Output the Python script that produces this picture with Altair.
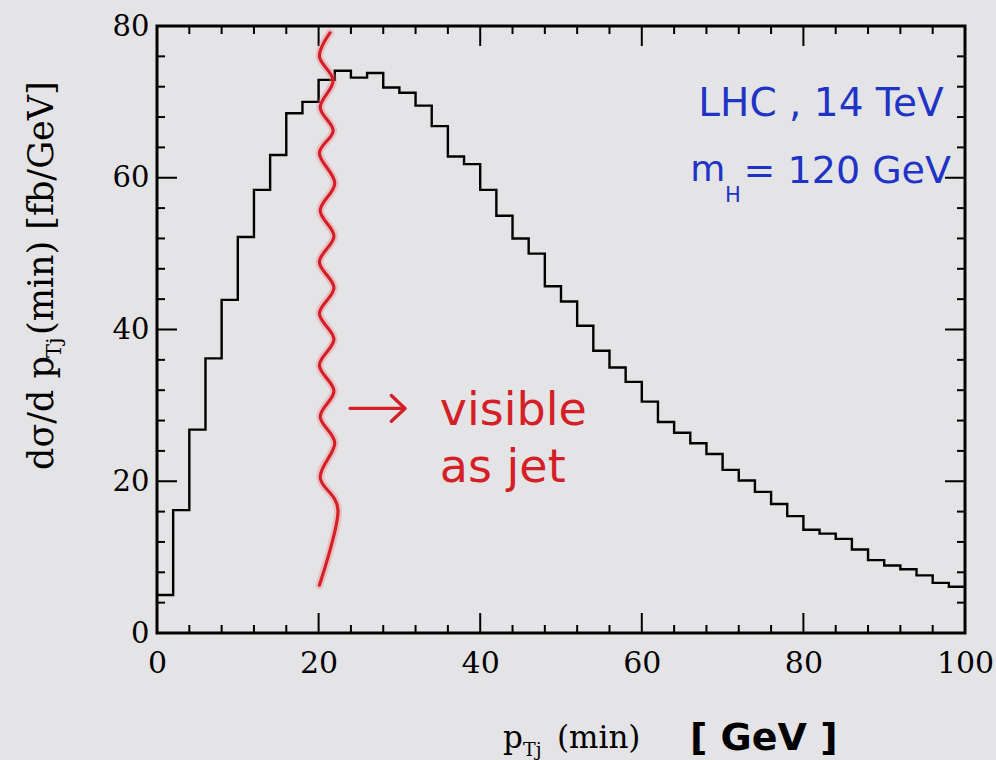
import altair as alt
import pandas as pd

# ---- histogram: d(sigma)/d pT,j(min) in 2 GeV bins, 0..100 GeV ----
bin_lo = list(range(0, 100, 2))
dsigma = [5.0, 16.2, 26.8, 36.2, 43.9, 52.2, 58.4, 63.0, 68.5, 70.0,
          72.9, 74.1, 73.2, 73.8, 71.9, 71.2, 69.5, 66.8, 62.8, 61.8,
          58.4, 55.0, 52.0, 50.0, 45.7, 43.7, 40.5, 37.2, 35.0, 33.1,
          30.5, 27.8, 26.4, 25.0, 23.6, 21.5, 20.1, 18.6, 17.0, 15.4,
          13.6, 13.1, 12.4, 11.0, 9.6, 8.9, 8.4, 7.6, 6.6, 6.1]

# axis ticks and labels
x_labels = [0, 20, 40, 60, 80, 100]
y_labels = [0, 20, 40, 60, 80]
x_ticks = list(range(0, 101, 4))
y_ticks = list(range(0, 81, 4))

# hand-drawn annotations (data coordinates)
cut_x = [21.4, 20.1, 21.8, 20.2, 21.8, 20.1, 22.0, 20.2, 21.9, 20.1,
         21.9, 20.1, 21.9, 20.1, 21.9, 20.2, 22.0, 20.2, 22.4, 20.1]
cut_y = [79.1, 76.0, 72.8, 69.3, 66.2, 63.2, 59.3, 55.7, 52.3, 48.9,
         45.5, 42.1, 38.7, 35.3, 31.9, 28.5, 25.0, 20.5, 16.0, 6.3]
arrow_x = [23.9, 30.6]
arrow_y = [29.6, 29.6]
head_x = [29.0, 30.7, 29.0]
head_y = [31.3, 29.6, 27.9]

W, H = 808, 607
xs = alt.Scale(domain=[0, 100], nice=False, zero=False)
ys = alt.Scale(domain=[0, 80], nice=False, zero=False)
X_AX = alt.Axis(title="", values=x_labels, domain=False, ticks=False, grid=False,
                labelFont="DejaVu Serif", labelFontSize=30, labelColor="black",
                labelPadding=15, labelFlush=False)
Y_AX = alt.Axis(title="", values=y_labels, domain=False, ticks=False, grid=False,
                labelFont="DejaVu Serif", labelFontSize=29, labelColor="black",
                labelPadding=8, labelFlush=False)

BLACK = "black"
RED = "#d41f27"
BLUE = "#1f34c6"

hist = pd.DataFrame({"pt": bin_lo + [100], "v": dsigma + [dsigma[-1]]})
hist_line = alt.Chart(hist).mark_line(interpolate="step-after", color=BLACK,
                                      strokeWidth=2.4).encode(
    x=alt.X("pt:Q", scale=xs, axis=X_AX),
    y=alt.Y("v:Q", scale=ys, axis=Y_AX),
)


def x_tick_layer(vals, length, side):
    y0, y1 = (H, H - length) if side == "bottom" else (0, length)
    return alt.Chart(pd.DataFrame({"t": vals})).mark_rule(color=BLACK, strokeWidth=2).encode(
        x=alt.X("t:Q", scale=xs, axis=X_AX), y=alt.value(y0), y2=alt.value(y1))


def y_tick_layer(vals, length, side):
    x0, x1 = (0, length) if side == "left" else (W, W - length)
    return alt.Chart(pd.DataFrame({"t": vals})).mark_rule(color=BLACK, strokeWidth=2).encode(
        y=alt.Y("t:Q", scale=ys, axis=Y_AX), x=alt.value(x0), x2=alt.value(x1))


x_major = [t for t in x_ticks if t % 20 == 0]
x_minor = [t for t in x_ticks if t % 20 != 0]
y_major = [t for t in y_ticks if t % 20 == 0]
y_minor = [t for t in y_ticks if t % 20 != 0]

tick_layers = [
    x_tick_layer(x_major, 20, "bottom"), x_tick_layer(x_minor, 8, "bottom"),
    x_tick_layer(x_major, 20, "top"), x_tick_layer(x_minor, 8, "top"),
    y_tick_layer(y_major, 20, "left"), y_tick_layer(y_minor, 8, "left"),
    y_tick_layer(y_major, 20, "right"), y_tick_layer(y_minor, 8, "right"),
]


def path(xv, yv, color, width, opacity=1.0, interp="linear"):
    df = pd.DataFrame({"x": xv, "y": yv, "i": list(range(len(xv)))})
    return alt.Chart(df).mark_line(color=color, strokeWidth=width, opacity=opacity,
                                   interpolate=interp, strokeCap="round",
                                   strokeJoin="round").encode(
        x=alt.X("x:Q", scale=xs, axis=X_AX),
        y=alt.Y("y:Q", scale=ys, axis=Y_AX),
        order="i:Q")


def note(text, x, y, size, color, font="DejaVu Sans", weight="normal"):
    return alt.Chart(pd.DataFrame({"t": [text], "x": [x], "y": [y]})).mark_text(
        align="left", baseline="alphabetic", font=font, fontSize=size,
        fontWeight=weight, color=color).encode(
        x=alt.X("x:Q", scale=xs, axis=X_AX),
        y=alt.Y("y:Q", scale=ys, axis=Y_AX),
        text="t:N")


def label(text, px, py, size, font="DejaVu Serif", angle=0, weight="normal"):
    return alt.Chart(pd.DataFrame({"t": [text]})).mark_text(
        align="left", baseline="alphabetic", font=font, fontSize=size,
        fontWeight=weight, angle=angle, color=BLACK).encode(
        x=alt.value(px), y=alt.value(py), text="t:N")


# jet-threshold line with its ink halo, arrow and notes
cut_glow = path(cut_x, cut_y, "#f07a80", 8, 0.35, "cardinal")
cut_line = path(cut_x, cut_y, RED, 3.2, 1.0, "cardinal")
arrow = path(arrow_x, arrow_y, RED, 3.4)
arrow_head = path(head_x, head_y, RED, 3.4)

notes = [
    note("visible", 35.0, 27.4, 46, RED),
    note("as  jet", 35.0, 19.9, 46, RED),
    note("LHC , 14 TeV", 67.0, 68.2, 39, BLUE),
    note("m", 66.0, 59.6, 36, BLUE),
    note("H", 70.3, 56.8, 21, BLUE),
    note("= 120 GeV", 72.6, 59.3, 38, BLUE),
]

# axis titles
titles = [
    label("p", 346, 722, 31),
    label("Tj", 366, 730, 19),
    label("(min)", 400, 722, 31),
    label("[ GeV ]", 533, 724, 38, font="DejaVu Sans", weight="bold"),
    label("dσ/d p", -104, 444, 35, angle=270),
    label("Tj", -96, 332, 21, angle=270),
    label("(min) [fb/GeV]", -104, 309, 35, angle=270),
]

chart = alt.layer(
    hist_line, *tick_layers, cut_glow, cut_line, arrow, arrow_head, *notes, *titles
).properties(
    width=W, height=H,
    padding={"left": 157, "top": 26, "right": 31, "bottom": 127},
    autosize=alt.AutoSizeParams(type="none"),
    background="#e4e4e6",
).configure_view(
    stroke=BLACK, strokeWidth=3,
)

chart.save("out.html", embed_options={"renderer": "svg", "actions": False})
